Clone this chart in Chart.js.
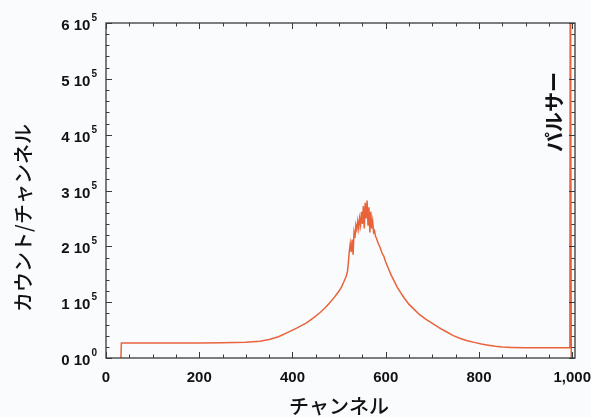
<!DOCTYPE html>
<html>
<head>
<meta charset="utf-8">
<script src="https://cdn.jsdelivr.net/npm/chart.js@4/dist/chart.umd.min.js"></script>
<style>
  html, body { margin: 0; padding: 0; background: #fafbfd; }
  #wrap { width: 591px; height: 417px; }
</style>
</head>
<body>
<div id="wrap"><canvas id="chart" width="591" height="417"></canvas></div>
<script>
// spectrum (channel, counts per channel)
var channels = [32, 33, 100, 200, 250, 300, 330, 350, 370, 390, 410, 430, 445, 460, 470,
  480, 490, 500, 505, 510, 515, 518, 520, 522, 524, 526, 528, 530, 532, 534, 536, 538,
  540, 542, 544, 546, 548, 550, 552, 554, 556, 558, 560, 562, 564, 566, 568, 570, 572,
  574, 576, 578, 580, 584, 588, 592, 596, 600, 606, 612, 618, 624, 632, 640, 650, 660,
  672, 685, 700, 715, 730, 745, 760, 775, 790, 805, 820, 835, 850, 870, 900, 950, 995,
  996, 997, 998];
var counts = [0, 27000, 27000, 27000, 27500, 28000, 30000, 33000, 38000, 46000, 54000, 63000, 72000, 82000, 90000,
  99000, 109000, 120000, 127000, 136000, 146000, 155000, 172000, 192000, 205000, 190000, 212000, 185000, 225000, 215000, 238000, 230000,
  245000, 232000, 250000, 238000, 262000, 240000, 272000, 232000, 278000, 250000, 282000, 238000, 270000, 225000, 262000, 232000, 245000,
  225000, 228000, 218000, 215000, 205000, 198000, 188000, 182000, 172000, 160000, 148000, 138000, 128000, 117000, 107000, 96000, 88000,
  78000, 70000, 62000, 54000, 47000, 40000, 35000, 31000, 28000, 25000, 23000, 21000, 19500, 19000, 18500, 18500, 18500,
  900000, 900000, 0];

var xTicks = [0, 200, 400, 600, 800, 1000];
var yTicks = [0, 100000, 200000, 300000, 400000, 500000, 600000];
var xTitle = 'チャンネル';
var yTitle = 'カウント/チャンネル';
var pulsarLabel = 'パルサー';

var points = channels.map(function (c, i) { return { x: c, y: counts[i] }; });

var framePlugin = {
  id: 'frame',
  beforeDraw: function (chart) {
    var ctx = chart.ctx;
    ctx.save();
    ctx.fillStyle = '#fafbfd';
    ctx.fillRect(0, 0, chart.width, chart.height);
    ctx.restore();
  },
  afterDraw: function (chart) {
    var ctx = chart.ctx;
    var a = chart.chartArea;
    var xs = chart.scales.x, ys = chart.scales.y;
    ctx.save();
    ctx.strokeStyle = '#3a3a3a';
    ctx.lineWidth = 1.3;
    ctx.strokeRect(a.left, a.top, a.right - a.left, a.bottom - a.top);

    // inner ticks on all four sides
    ctx.lineWidth = 1;
    ctx.beginPath();
    for (var v = 0; v <= 1000; v += 50) {
      var px = Math.round(xs.getPixelForValue(v)) + 0.5;
      var len = (v % 200 === 0) ? 6 : 3.5;
      ctx.moveTo(px, a.bottom); ctx.lineTo(px, a.bottom - len);
      ctx.moveTo(px, a.top); ctx.lineTo(px, a.top + len);
    }
    for (var w = 0; w <= 600000; w += 20000) {
      var py = Math.round(ys.getPixelForValue(w)) + 0.5;
      var l2 = (w % 100000 === 0) ? 6 : 3.5;
      ctx.moveTo(a.left, py); ctx.lineTo(a.left + l2, py);
      ctx.moveTo(a.right, py); ctx.lineTo(a.right - l2, py);
    }
    ctx.stroke();

    // y tick labels "n 10^e" with a real superscript
    ctx.fillStyle = '#111';
    ctx.textBaseline = 'alphabetic';
    yTicks.forEach(function (t) {
      var y = ys.getPixelForValue(t);
      var exp = t === 0 ? '0' : '5';
      var base = (t === 0 ? 0 : t / 100000) + ' 10';
      ctx.font = 'bold 10px "Liberation Sans", Arial';
      ctx.textAlign = 'right';
      ctx.fillText(exp, a.left - 9, y - 2);
      var ew = ctx.measureText(exp).width;
      ctx.font = 'bold 15px "Liberation Sans", Arial';
      ctx.fillText(base, a.left - 10 - ew, y + 7);
    });

    // titles
    ctx.fillStyle = '#111';
    ctx.textAlign = 'center';
    ctx.textBaseline = 'middle';
    ctx.font = '500 20px "Noto Sans CJK JP"';
    ctx.fillText(xTitle, 339, 406);
    ctx.save();
    ctx.translate(23, 218);
    ctx.rotate(-Math.PI / 2);
    ctx.fillText(yTitle, 0, 0);
    ctx.restore();
    ctx.save();
    ctx.translate(554, 112);
    ctx.rotate(-Math.PI / 2);
    ctx.font = 'bold 20px "Noto Sans CJK JP"';
    ctx.fillText(pulsarLabel, 0, 0);
    ctx.restore();
    ctx.restore();
  }
};

new Chart(document.getElementById('chart'), {
  type: 'scatter',
  data: {
    datasets: [{
      data: points,
      showLine: true,
      borderColor: '#e8633b',
      borderWidth: 1.5,
      pointRadius: 0,
      tension: 0
    }]
  },
  options: {
    responsive: false,
    animation: false,
    layout: { padding: { top: 23, right: 16, left: 0, bottom: 0 } },
    plugins: { legend: { display: false }, tooltip: { enabled: false } },
    scales: {
      x: {
        type: 'linear',
        min: 0,
        max: 1006,
        grid: { display: false, drawTicks: false },
        border: { display: false },
        afterBuildTicks: function (s) { s.ticks = xTicks.map(function (v) { return { value: v }; }); },
        afterFit: function (s) { s.height = 59; s.paddingLeft = 0; s.paddingRight = 0; },
        ticks: {
          padding: 11,
          color: '#111',
          font: { family: '"Liberation Sans", Arial', size: 15, weight: 'bold' },
          maxRotation: 0,
          callback: function (v) { return v.toLocaleString('en-US'); }
        }
      },
      y: {
        min: 0,
        max: 600000,
        grid: { display: false, drawTicks: false },
        border: { display: false },
        afterBuildTicks: function (s) { s.ticks = yTicks.map(function (v) { return { value: v }; }); },
        afterFit: function (s) { s.width = 106; s.paddingTop = 0; s.paddingBottom = 0; },
        ticks: { display: false }
      }
    }
  },
  plugins: [framePlugin]
});
</script>
</body>
</html>
